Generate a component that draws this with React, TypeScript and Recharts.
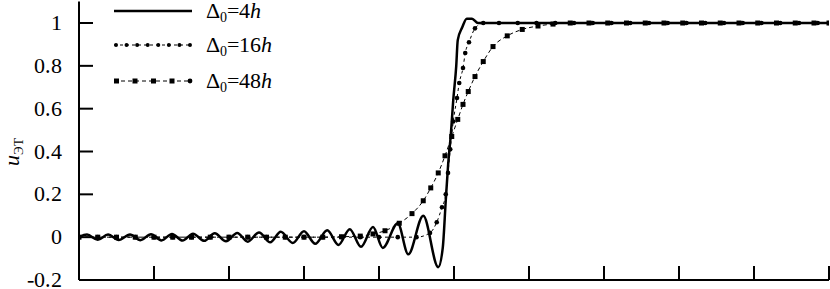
import React, { useEffect, useRef } from 'react';
import { LineChart, Line, XAxis, YAxis } from 'recharts';

// Δ0 = 4h (solid, oscillating)
const X_4H = [
  0, 0.107, 0.25, 0.387, 0.53, 0.68, 0.82, 0.96, 1.1, 1.24, 1.38, 1.52, 1.67, 1.81, 1.96, 2.11,
  2.25, 2.4, 2.55, 2.69, 2.85, 3.0, 3.15, 3.31, 3.46, 3.61, 3.76, 3.92, 4.05, 4.25, 4.39, 4.59,
  4.79, 4.85, 4.89, 4.92, 4.96, 4.99, 5.03, 5.05, 5.11, 5.17, 5.24, 5.32, 5.44, 10,
];
const Y_4H = [
  0, 0.012, -0.012, 0.012, -0.013, 0.013, -0.014, 0.014, -0.015, 0.015, -0.016, 0.016, -0.017, 0.018, -0.019, 0.02,
  -0.021, 0.022, -0.024, 0.025, -0.027, 0.028, -0.031, 0.032, -0.036, 0.037, -0.045, 0.047, -0.05, 0.065, -0.08, 0.1,
  -0.14, -0.05, 0.17, 0.33, 0.49, 0.64, 0.8, 0.92, 0.98, 1.02, 1.02, 1.0, 1.0, 1.0,
];

// Δ0 = 16h
const X_16H = [
  0, 0.25, 0.5, 0.75, 1, 1.25, 1.5, 1.75, 2, 2.25, 2.5, 2.75, 3, 3.25, 3.5, 3.75, 4, 4.25, 4.5,
  4.68, 4.77, 4.84, 4.89, 4.92, 4.95, 4.99, 5.04, 5.07, 5.12, 5.15, 5.2, 5.28, 5.39,
  5.6, 5.85, 6.1, 6.35, 6.6, 6.85, 7.1, 7.35, 7.6, 7.85, 8.1, 8.35, 8.6, 8.85, 9.1, 9.35, 9.6, 9.85, 10,
];
const Y_16H = [
  0, 0, 0, 0, 0, 0, 0, 0, 0, 0, 0, 0, 0, 0, 0, 0, 0, 0, 0,
  0.02, 0.07, 0.14, 0.2, 0.3, 0.41, 0.54, 0.65, 0.72, 0.79, 0.86, 0.91, 0.975, 1.0,
  1, 1, 1, 1, 1, 1, 1, 1, 1, 1, 1, 1, 1, 1, 1, 1, 1, 1, 1,
];

// Δ0 = 48h
const X_48H = [
  0, 0.25, 0.5, 0.75, 1, 1.25, 1.5, 1.75, 2, 2.25, 2.5, 2.75, 3, 3.25, 3.5, 3.75,
  3.92, 4.08, 4.27, 4.44, 4.59, 4.69, 4.79, 4.88, 4.97, 5.05, 5.12, 5.19, 5.28, 5.39, 5.52, 5.71,
  5.91, 6.12, 6.32, 6.55, 6.8, 7.05, 7.3, 7.55, 7.8, 8.05, 8.3, 8.55, 8.8, 9.05, 9.3, 9.55, 9.8, 10,
];
const Y_48H = [
  0, 0, 0, 0, 0, 0, 0, 0, 0, 0, 0, 0, 0, 0, 0.002, 0.005,
  0.015, 0.03, 0.065, 0.11, 0.17, 0.23, 0.3, 0.38, 0.47, 0.55, 0.62, 0.68, 0.75, 0.82, 0.89, 0.94,
  0.97, 0.986, 0.995, 1, 1, 1, 1, 1, 1, 1, 1, 1, 1, 1, 1, 1, 1, 1,
];

const X_TICKS = [0, 1, 2, 3, 4, 5, 6, 7, 8, 9, 10];
const Y_TICKS = [-0.2, 0, 0.2, 0.4, 0.6, 0.8, 1];
const Y_TICK_LABELS = ['-0.2', '0', '0.2', '0.4', '0.6', '0.8', '1'];

const FONT = 'ChartSerif, Liberation Serif, Noto Serif, DejaVu Serif';
const FONT_CSS = `
@font-face { font-family: 'ChartSerif'; src: local('Liberation Serif'), local('LiberationSerif'); font-style: normal; }
@font-face { font-family: 'ChartSerif'; src: local('Liberation Serif Italic'), local('LiberationSerif-Italic'); font-style: italic; }
`;

const toPoints = (xs: number[], ys: number[]) => xs.map((x, i) => ({ x, y: ys[i] }));

const RoundDot = (props: any) => {
  const { cx, cy } = props;
  if (cx == null || cy == null) return null;
  return <circle cx={cx} cy={cy} r={2.3} fill="#000" />;
};

const SquareDot = (props: any) => {
  const { cx, cy } = props;
  if (cx == null || cy == null) return null;
  return <rect x={cx - 2.5} y={cy - 2.5} width={5} height={5} fill="#000" />;
};

const YTick = (props: any) => {
  const { x, y, payload } = props;
  return (
    <text className="serif-txt" x={x} y={y} dy={7} textAnchor="end" fontFamily={FONT} fontSize={22} fill="#000">
      {Y_TICK_LABELS[Y_TICKS.indexOf(payload.value)] ?? ''}
    </text>
  );
};

const LegendLabel = ({ y, n }: { y: number; n: string }) => (
  <text className="serif-txt" x={206} y={y} fontFamily={FONT} fontSize={22} fill="#000">
    Δ<tspan fontSize={14} dy={4}>0</tspan>
    <tspan dy={-4}>={n}</tspan>
    <tspan fontStyle="italic">h</tspan>
  </text>
);

const Overlay = () => (
  <svg width={830} height={289} style={{ position: 'absolute', left: 0, top: 0, pointerEvents: 'none' }}>
    <line x1={114} x2={192} y1={11} y2={11} stroke="#000" strokeWidth={2.5} />
    <LegendLabel y={18} n="4" />
    <line x1={114} x2={192} y1={45} y2={45} stroke="#000" strokeWidth={1} strokeDasharray="3 3" />
    {[0, 1, 2, 3, 4, 5, 6, 7].map((i) => (
      <circle key={i} cx={116 + i * 10.57} cy={45} r={2} fill="#000" />
    ))}
    <LegendLabel y={52} n="16" />
    <line x1={114} x2={192} y1={81} y2={81} stroke="#000" strokeWidth={1} strokeDasharray="4 3" />
    {[0, 1, 2, 3].map((i) => (
      <rect key={i} x={114 + i * 18.5} y={78.5} width={5} height={5} fill="#000" />
    ))}
    <circle cx={190} cy={81} r={2.4} fill="#000" />
    <LegendLabel y={88} n="48" />
    <text className="serif-txt" transform="translate(19,166) rotate(-90)" fontFamily={FONT} fontSize={22} fill="#000">
      <tspan fontStyle="italic">u</tspan>
      <tspan fontSize={13} dy={4}>ЭТ</tspan>
    </text>
  </svg>
);

export default function App() {
  const ref = useRef<HTMLDivElement>(null);
  useEffect(() => {
    // force the serif face on every svg text, overriding any inherited font
    ref.current?.querySelectorAll('text, tspan').forEach((el) => {
      (el as SVGElement).style.setProperty('font-family', FONT, 'important');
    });
  });
  return (
    <div ref={ref} style={{ position: 'absolute', left: 0, top: 0, width: 830, height: 289, background: '#fff', fontFamily: FONT }}>
      <style>{FONT_CSS}</style>
      <LineChart width={830} height={289} margin={{ top: 1.6, right: 1, bottom: 8, left: 0 }}>
        <XAxis
          type="number"
          dataKey="x"
          domain={[0, 10]}
          ticks={X_TICKS}
          tickFormatter={() => ''}
          height={1}
          tickSize={-14}
          tickMargin={0}
          interval={0}
          allowDataOverflow
          axisLine={{ stroke: '#000', strokeWidth: 2 }}
          tickLine={{ stroke: '#000', strokeWidth: 2 }}
        />
        <YAxis
          type="number"
          dataKey="y"
          domain={[-0.2, 1.1]}
          ticks={Y_TICKS}
          width={79}
          tickSize={-14}
          tickMargin={31}
          interval={0}
          allowDataOverflow
          axisLine={{ stroke: '#000', strokeWidth: 2 }}
          tickLine={{ stroke: '#000', strokeWidth: 2 }}
          tick={<YTick />}
        />
        <Line
          data={toPoints(X_48H, Y_48H)}
          dataKey="y"
          type="monotone"
          stroke="#000"
          strokeWidth={1}
          strokeDasharray="4 3"
          dot={<SquareDot />}
          isAnimationActive={false}
        />
        <Line
          data={toPoints(X_16H, Y_16H)}
          dataKey="y"
          type="monotone"
          stroke="#000"
          strokeWidth={1}
          strokeDasharray="3 3"
          dot={<RoundDot />}
          isAnimationActive={false}
        />
        <Line
          data={toPoints(X_4H, Y_4H)}
          dataKey="y"
          type="monotone"
          stroke="#000"
          strokeWidth={2.5}
          dot={false}
          isAnimationActive={false}
        />
      </LineChart>
      <Overlay />
    </div>
  );
}
